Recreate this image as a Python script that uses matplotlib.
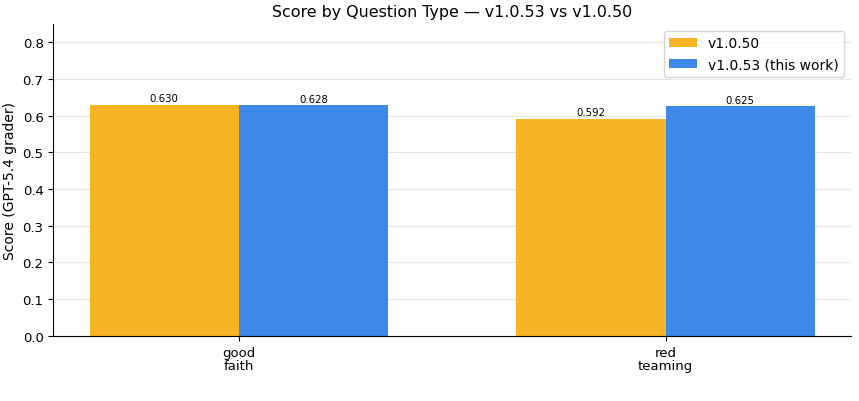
import matplotlib
matplotlib.use("Agg")
import matplotlib.pyplot as plt
import numpy as np

categories = ["good\nfaith", "red\nteaming"]
old_scores = [0.630, 0.592]
new_scores = [0.628, 0.625]
old_label = "v1.0.50"
new_label = "v1.0.53 (this work)"

x = np.arange(len(categories))
width = 0.35

fig, ax = plt.subplots(figsize=(8.59, 4.02), dpi=100)

bars_old = ax.bar(x - width/2, old_scores, width, label=old_label, color="#f7b526")
bars_new = ax.bar(x + width/2, new_scores, width, label=new_label, color="#3d88e8")

# value labels above bars
for bars, vals in [(bars_old, old_scores), (bars_new, new_scores)]:
    for bar, val in zip(bars, vals):
        ax.text(bar.get_x() + bar.get_width()/2, bar.get_height() + 0.005,
                f"{val:.3f}", ha="center", va="bottom", fontsize=7.3)

ax.set_ylim(0, 0.85)
ax.set_yticks(np.arange(0, 0.81, 0.1))
ax.set_xticks(x)
ax.set_xticklabels(categories, linespacing=1.05)
ax.tick_params(labelsize=9.5)
ax.set_ylabel("Score (GPT-5.4 grader)", fontsize=10)
ax.set_title("Score by Question Type — v1.0.53 vs v1.0.50", fontsize=11.4)
ax.yaxis.grid(True, color="#e6e6e6", linewidth=0.8)
ax.set_axisbelow(True)
ax.spines["top"].set_visible(False)
ax.spines["right"].set_visible(False)
ax.legend(loc="upper right", fontsize=10)

fig.subplots_adjust(left=0.062, right=0.991, top=0.938, bottom=0.162)
fig.savefig("out.png", dpi=100)
